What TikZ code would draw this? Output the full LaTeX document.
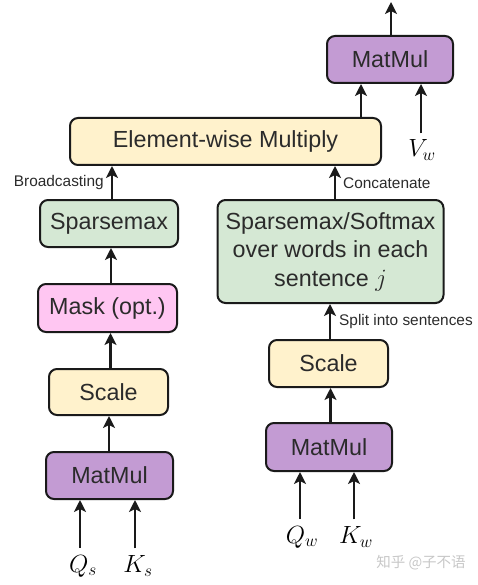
\documentclass[tikz,border=0pt]{standalone}
\usepackage{fontspec}
\setmainfont{Liberation Sans}
\newfontfamily\cjkfont{Noto Sans CJK SC}
\usetikzlibrary{arrows.meta}
\definecolor{cpurple}{HTML}{C39BD3}
\definecolor{cyellow}{HTML}{FFF2CC}
\definecolor{cgreen}{HTML}{D5E8D4}
\definecolor{cpink}{HTML}{FFC6F2}
\definecolor{cline}{HTML}{1A1A1A}
\definecolor{ctext}{HTML}{2B2B2B}
\tikzset{
  blk/.style={draw=cline, line width=2pt, rounded corners=8pt, inner sep=0pt,
    text=ctext, font=\fontsize{23.3}{28.5}\selectfont, align=center},
  arr/.style={draw=cline, line width=2.5pt, -{Stealth[length=12pt,width=12pt,inset=3pt]}},
  lbl/.style={inner sep=0pt, text=ctext, font=\fontsize{15.4}{18}\selectfont},
  mth/.style={inner sep=0pt, font=\fontsize{23}{27}\selectfont},
}
\begin{document}
\begin{tikzpicture}[x=1pt,y=-1pt]
\useasboundingbox (0,0) rectangle (478,585);
% boxes
\node[blk, fill=cpurple, minimum width=126pt, minimum height=47pt] (mmt) at (390,59.5) {MatMul};
\node[blk, fill=cyellow, minimum width=311pt, minimum height=47pt] (elem) at (225.5,141.5) {Element-wise Multiply};
\node[blk, fill=cgreen, minimum width=138pt, minimum height=47pt] (spl) at (109,223.5) {Sparsemax};
\node[blk, fill=cpink, minimum width=139pt, minimum height=48pt] (mask) at (107.5,308) {Mask (opt.)};
\node[blk, fill=cyellow, minimum width=119pt, minimum height=46pt] (scl) at (108.5,392) {Scale};
\node[blk, fill=cpurple, minimum width=127pt, minimum height=47pt] (mml) at (109.5,475.5) {MatMul};
\node[blk, fill=cgreen, minimum width=226pt, minimum height=103pt] (big) at (330.5,251.5) {Sparsemax/Softmax\\over words in each\\sentence $j$};
\node[blk, fill=cyellow, minimum width=119pt, minimum height=47pt] (scr) at (328.5,363.5) {Scale};
\node[blk, fill=cpurple, minimum width=126pt, minimum height=48pt] (mmr) at (329,447) {MatMul};
% math labels
\node[mth] (vw) at (422,150) {$V_w$};
\node[mth] (qs) at (83,566) {$Q_s$};
\node[mth] (ks) at (138,566) {$K_s$};
\node[mth] (qw) at (302,537) {$Q_w$};
\node[mth] (kw) at (356,537) {$K_w$};
% small labels
\node[lbl, anchor=east] (lb) at (104,183) {Broadcasting};
\node[lbl, anchor=west] (lc) at (343,183) {Concatenate};
\node[lbl, anchor=west] (ls) at (339,322) {Split into sentences};
% output
\coordinate (out) at (391,2);
% arrows
\draw[arr] (mmt.north -| out) -- (out);
\draw[arr] ([xshift=-29pt]mmt.south |- elem.north) -- ([xshift=-29pt]mmt.south);
\draw[arr] ([xshift=-1pt,yshift=6pt]vw.north) -- ([xshift=-1pt]vw.north |- mmt.south);
\draw[arr] ([xshift=3pt]spl.north) -- ([xshift=3pt]spl.north |- elem.south);
\draw[arr] ([xshift=4.5pt]big.north) -- ([xshift=4.5pt]big.north |- elem.south);
\draw[arr] ([xshift=3.5pt]mask.north) -- ([xshift=3.5pt]mask.north |- spl.south);
\draw[arr] ([xshift=2pt]scl.north) -- ([xshift=2pt]scl.north |- mask.south);
\draw[arr] ([xshift=-0.5pt]mml.north) -- ([xshift=-0.5pt]mml.north |- scl.south);
\draw[arr] ([xshift=1.5pt]scr.north) -- ([xshift=1.5pt]scr.north |- big.south);
\draw[arr] ([xshift=1.5pt]mmr.north) -- ([xshift=1.5pt]mmr.north |- scr.south);
\draw[arr] ([xshift=-3pt,yshift=7pt]qs.north) -- ([xshift=-3pt]qs.north |- mml.south);
\draw[arr] ([xshift=-3pt,yshift=7pt]ks.north) -- ([xshift=-3pt]ks.north |- mml.south);
\draw[arr] ([xshift=-2pt,yshift=7pt]qw.north) -- ([xshift=-2pt]qw.north |- mmr.south);
\draw[arr] ([xshift=-2pt,yshift=7pt]kw.north) -- ([xshift=-2pt]kw.north |- mmr.south);
% watermark
\node[inner sep=0pt, text=black!22, font=\cjkfont\fontsize{14.5}{17}\selectfont] (wm) at (421,563) {知乎 @子不语};
\end{tikzpicture}
\end{document}
